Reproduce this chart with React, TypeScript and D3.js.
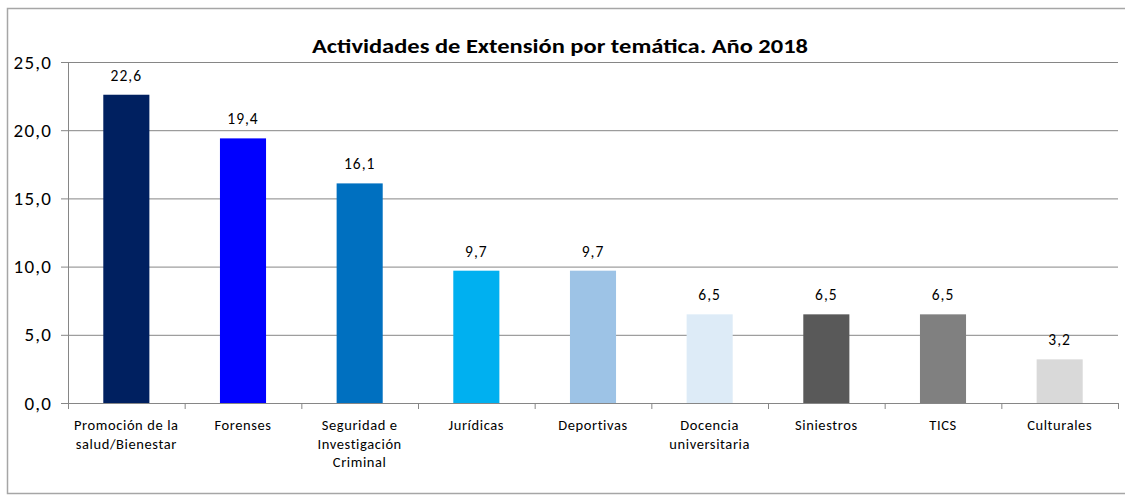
import React from "react";
import * as d3 from "d3";

const categories: string[][] = [
  ["Promoción de la", "salud/Bienestar"],
  ["Forenses"],
  ["Seguridad e", "Investigación", "Criminal"],
  ["Jurídicas"],
  ["Deportivas"],
  ["Docencia", "universitaria"],
  ["Siniestros"],
  ["TICS"],
  ["Culturales"],
];
const values: number[] = [22.6, 19.4, 16.1, 9.7, 9.7, 6.5, 6.5, 6.5, 3.2];
const colors: string[] = [
  "#002060", "#0000FF", "#0070C0", "#00B0F0", "#9DC3E6",
  "#DDEBF7", "#595959", "#808080", "#D9D9D9",
];
const yTicks: number[] = [0, 5, 10, 15, 20, 25];
const title = "Actividades de Extensión por temática. Año 2018";

const W = 1125;
const H = 495;
const left = 68;
const right = 1118;
const top = 62;
const bottom = 403;
const font = "Carlito, 'Open Sans', 'Liberation Sans', sans-serif";

const fmt = (v: number) => v.toFixed(1).replace(".", ",");

export default function App() {
  const x = d3.scaleBand<number>().domain(d3.range(values.length)).range([left, right]).paddingInner(0).paddingOuter(0);
  const y = d3.scaleLinear().domain([0, 25]).range([bottom, top]);
  const bw = x.bandwidth() * 0.395;
  const boundaries = d3.range(values.length + 1).map((i) => left + i * x.bandwidth());

  return (
    <svg width={W} height={H} style={{ position: "absolute", left: 0, top: 0, display: "block" }}>
      <rect x={0} y={0} width={W} height={H} fill="#fff" />
      <rect x={7.5} y={8.5} width={W} height={485} fill="#fff" stroke="#a6a6a6" strokeWidth={1.5} />
      <text x={560} y={53} textAnchor="middle" fontFamily={font} fontWeight="bold" fontSize={20} fill="#000"
        textLength={496} lengthAdjust="spacingAndGlyphs">{title}</text>
      {yTicks.map((t) => (
        <g key={t}>
          <line x1={left - 7} x2={right} y1={y(t) + 0.5} y2={y(t) + 0.5} stroke="#868686" strokeWidth={1} />
          <text x={52} y={y(t) + 6.5} textAnchor="end" fontFamily={font} fontSize={19} letterSpacing={1.2} fill="#000">{fmt(t)}</text>
        </g>
      ))}
      <line x1={left + 0.5} x2={left + 0.5} y1={top} y2={bottom} stroke="#868686" />
      {values.map((v, i) => {
        const cx = (x(i) as number) + x.bandwidth() / 2;
        return (
          <g key={i}>
            <rect x={cx - bw / 2} y={y(v)} width={bw} height={y(0) - y(v)} fill={colors[i]} />
            <text x={cx} y={y(v) - 14} textAnchor="middle" fontFamily={font} fontSize={15.5} letterSpacing={1} fill="#000">{fmt(v)}</text>
            {categories[i].map((line, j) => (
              <text key={j} x={cx} y={430 + j * 18.5} textAnchor="middle" fontFamily={font} fontSize={14.5}
                letterSpacing={0.6} fill="#000">{line}</text>
            ))}
          </g>
        );
      })}
      <line x1={left} x2={right} y1={bottom + 0.5} y2={bottom + 0.5} stroke="#868686" />
      {boundaries.map((b, i) => (
        <line key={i} x1={b + 0.5} x2={b + 0.5} y1={bottom} y2={bottom + 6} stroke="#868686" />
      ))}
    </svg>
  );
}
